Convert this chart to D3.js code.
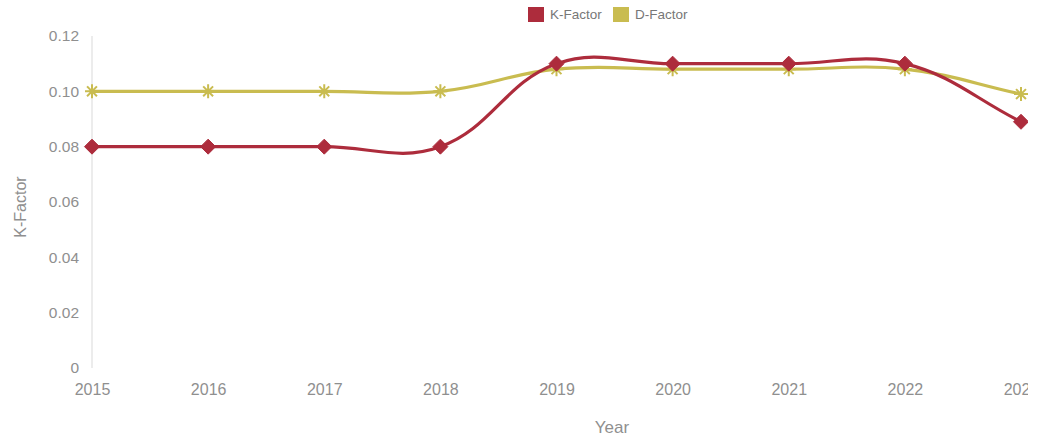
<!DOCTYPE html>
<html>
<head>
<meta charset="utf-8">
<script src="https://cdn.jsdelivr.net/npm/d3@7"></script>
<style>
  html, body { margin: 0; padding: 0; background: #fff; }
  svg { display: block; font-family: "Liberation Sans", Arial, sans-serif; }
</style>
</head>
<body>
<svg id="chart" width="1045" height="444"></svg>
<script>
// Yearly factors
const years = ["2015", "2016", "2017", "2018", "2019", "2020", "2021", "2022", "2023"];
const kFactor = [0.08, 0.08, 0.08, 0.08, 0.11, 0.11, 0.11, 0.11, 0.089];
const dFactor = [0.10, 0.10, 0.10, 0.10, 0.108, 0.108, 0.108, 0.108, 0.099];
const yTicks = [0, 0.02, 0.04, 0.06, 0.08, 0.10, 0.12];

const series = [
  { name: "K-Factor", values: kFactor, color: "#ad2c3c", marker: "diamond" },
  { name: "D-Factor", values: dFactor, color: "#c9bc50", marker: "star" }
];

const svg = d3.select("#chart");
const W = 1045, H = 444;

svg.append("defs").append("clipPath").attr("id", "viewClip")
  .append("rect").attr("x", 0).attr("y", 0).attr("width", 1028).attr("height", H);

const root = svg.append("g").attr("clip-path", "url(#viewClip)");

const x = d3.scalePoint().domain(years).range([92, 1021]);
const y = d3.scaleLinear().domain([0, 0.12]).range([368, 36]);

// y axis border line
root.append("line")
  .attr("x1", 92).attr("x2", 92)
  .attr("y1", y(0.12)).attr("y2", y(0))
  .attr("stroke", "#e6e6e6").attr("stroke-width", 1.5);

// y axis tick labels
const yAxis = d3.axisLeft(y).tickValues(yTicks)
  .tickFormat(d => d === 0 ? "0" : d3.format(".2f")(d))
  .tickSize(0).tickPadding(0);
root.append("g").attr("transform", "translate(79,0)").call(yAxis)
  .call(g => g.select(".domain").remove())
  .selectAll("text")
  .attr("fill", "#8f8f8f").attr("font-size", 15.5);

// x axis tick labels
const xAxis = d3.axisBottom(x).tickSize(0).tickPadding(0);
root.append("g").attr("transform", "translate(0,384)").call(xAxis)
  .call(g => g.select(".domain").remove())
  .selectAll("text")
  .attr("fill", "#8f8f8f").attr("font-size", 16);

// axis titles
root.append("text")
  .attr("x", 612).attr("y", 433)
  .attr("text-anchor", "middle")
  .attr("fill", "#8f8f8f").attr("font-size", 17)
  .text("Year");
root.append("text")
  .attr("transform", "translate(26,207) rotate(-90)")
  .attr("text-anchor", "middle")
  .attr("fill", "#8f8f8f").attr("font-size", 16)
  .text("K-Factor");

// Spline through points (tension 0.4, distance weighted control points)
function splinePath(pts, t) {
  const n = pts.length;
  const cps = pts.map((p1, i) => {
    const p0 = pts[i - 1] || p1;
    const p2 = pts[i + 1] || p1;
    const d01 = Math.hypot(p1[0] - p0[0], p1[1] - p0[1]);
    const d12 = Math.hypot(p2[0] - p1[0], p2[1] - p1[1]);
    let s01 = d01 / (d01 + d12), s12 = d12 / (d01 + d12);
    if (!isFinite(s01)) s01 = 0;
    if (!isFinite(s12)) s12 = 0;
    const fa = t * s01, fb = t * s12;
    return {
      prev: [p1[0] - fa * (p2[0] - p0[0]), p1[1] - fa * (p2[1] - p0[1])],
      next: [p1[0] + fb * (p2[0] - p0[0]), p1[1] + fb * (p2[1] - p0[1])]
    };
  });
  const path = d3.path();
  path.moveTo(pts[0][0], pts[0][1]);
  for (let i = 1; i < n; i++) {
    const a = cps[i - 1].next, b = cps[i].prev;
    path.bezierCurveTo(a[0], a[1], b[0], b[1], pts[i][0], pts[i][1]);
  }
  return path.toString();
}

function markerPath(type, r) {
  if (type === "diamond") {
    return `M0,${-r}L${r},0L0,${r}L${-r},0Z`;
  }
  // eight-pointed star made of crossing strokes
  const d = r * Math.SQRT1_2;
  return `M0,${-r}L0,${r}M${-r},0L${r},0M${-d},${-d}L${d},${d}M${-d},${d}L${d},${-d}`;
}

// draw D-Factor first so K-Factor sits on top
[series[1], series[0]].forEach(s => {
  const pts = s.values.map((v, i) => [x(years[i]), y(v)]);
  const g = root.append("g");
  g.append("path")
    .attr("d", splinePath(pts, 0.4))
    .attr("fill", "none")
    .attr("stroke", s.color)
    .attr("stroke-width", 3.2);
  g.selectAll("path.mk").data(s.values).join("path")
    .attr("class", "mk")
    .attr("transform", (v, i) => `translate(${x(years[i])},${y(v)})`)
    .attr("d", markerPath(s.marker, s.marker === "diamond" ? 7.5 : 7))
    .attr("fill", s.color)
    .attr("stroke", s.color)
    .attr("stroke-width", s.marker === "diamond" ? 1 : 2);
});

// legend
const legend = root.append("g");
const legendItems = [
  { name: "K-Factor", color: series[0].color, x: 528 },
  { name: "D-Factor", color: series[1].color, x: 613 }
];
legendItems.forEach(it => {
  legend.append("rect")
    .attr("x", it.x).attr("y", 7)
    .attr("width", 16).attr("height", 15)
    .attr("fill", it.color);
  legend.append("text")
    .attr("x", it.x + 22).attr("y", 19)
    .attr("fill", "#777").attr("font-size", 13.5)
    .text(it.name);
});
</script>
</body>
</html>
